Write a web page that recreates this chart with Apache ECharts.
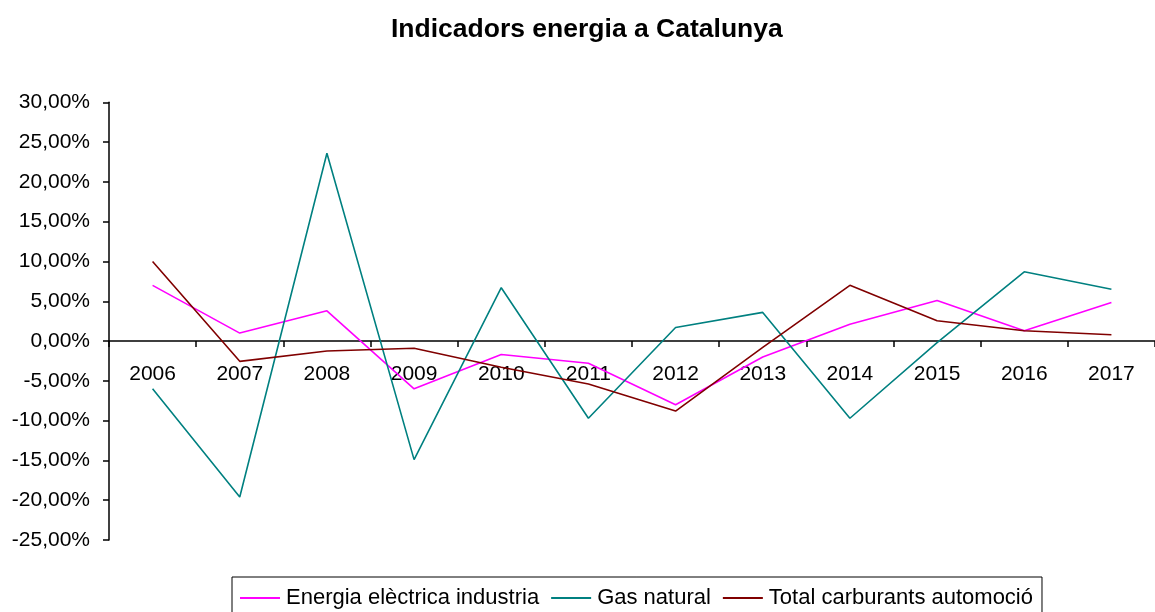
<!DOCTYPE html>
<html>
<head>
<meta charset="utf-8">
<script src="https://cdn.jsdelivr.net/npm/echarts@6/dist/echarts.min.js"></script>
<style>
  html, body { margin: 0; padding: 0; background: #fff; }
  #chart { width: 1155px; height: 612px; }
</style>
</head>
<body>
<div id="chart"></div>
<script>
// Indicadors energia a Catalunya — variació anual (%)
const FONT = '"Liberation Sans", Arial, sans-serif'

const years = ['2006', '2007', '2008', '2009', '2010', '2011', '2012', '2013', '2014', '2015', '2016', '2017']
const energiaElectrica = [7.0, 1.0, 3.8, -6.0, -1.7, -2.8, -8.0, -2.0, 2.1, 5.1, 1.3, 4.85]
const gasNatural = [-6.0, -19.6, 23.6, -14.9, 6.7, -9.7, 1.7, 3.6, -9.7, -0.2, 8.7, 6.5]
const carburants = [10.0, -2.55, -1.25, -0.9, -3.3, -5.4, -8.8, -0.8, 7.0, 2.55, 1.3, 0.8]

const pct = v => v.toFixed(2).replace('.', ',') + '%'

function line(name, data, color) {
  return {
    name, type: 'line', data, symbol: 'none',
    lineStyle: { width: 1.6, color },
    itemStyle: { color },
    animation: false,
  }
}

const chart = echarts.init(document.getElementById('chart'), null, { renderer: 'canvas' })
chart.setOption({
  textStyle: { fontFamily: FONT },
  title: {
    text: 'Indicadors energia a Catalunya',
    left: 386, top: 11,
    textStyle: { fontFamily: FONT, fontSize: 26.5, fontWeight: 'bold', color: '#000' },
  },
  grid: { left: 109, top: 102.3, width: 1053, height: 437.7, containLabel: false },
  legend: {
    left: 232, top: 577,
    padding: [10, 9, 8, 8],
    borderColor: '#000', borderWidth: 1,
    icon: 'rect',
    itemWidth: 40, itemHeight: 2, itemGap: 12,
    textStyle: { fontFamily: FONT, fontSize: 22, color: '#000', padding: [0, 0, 0, 1] },
    data: ['Energia elèctrica industria', 'Gas natural', 'Total carburants automoció'],
  },
  xAxis: {
    type: 'category',
    data: years,
    boundaryGap: true,
    axisLine: { onZero: true, lineStyle: { color: '#000', width: 1.5 } },
    axisTick: { show: true, length: 6, lineStyle: { color: '#000', width: 1.5 } },
    // labels sit just under the zero line, as in the original
    axisLabel: { interval: 0, margin: -176, color: '#000', fontSize: 21, fontFamily: FONT },
    splitLine: { show: false },
  },
  yAxis: {
    type: 'value',
    min: -25, max: 30, interval: 5,
    axisLine: { show: true, lineStyle: { color: '#000', width: 1.5 } },
    axisTick: { show: true, length: 6, lineStyle: { color: '#000', width: 1.5 } },
    axisLabel: { margin: 19, color: '#000', fontSize: 21, fontFamily: FONT, formatter: pct },
    splitLine: { show: false },
  },
  series: [
    line('Energia elèctrica industria', energiaElectrica, '#FF00FF'),
    line('Gas natural', gasNatural, '#008080'),
    line('Total carburants automoció', carburants, '#800000'),
  ],
  animation: false,
})
</script>
</body>
</html>
